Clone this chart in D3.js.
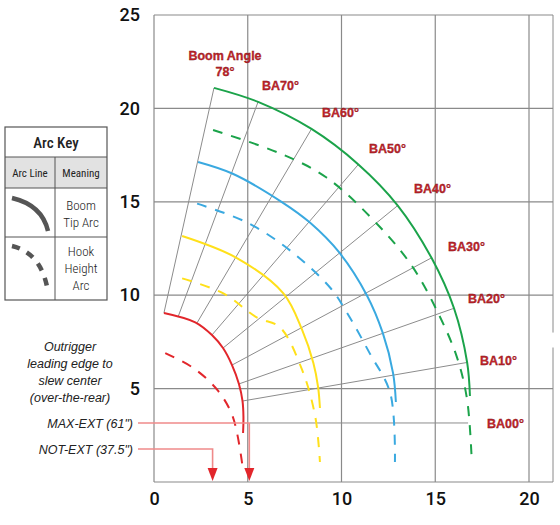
<!DOCTYPE html>
<html><head><meta charset="utf-8">
<script src="https://cdn.jsdelivr.net/npm/d3@7"></script>
<style>body{margin:0;background:#fff}</style></head>
<body><svg id="c" width="560" height="525"></svg>
<script>
const xTicks=[0,5,10,15,20];
const yTicks=[5,10,15,20,25];
const angles=[78,70,60,50,40,30,20,10,0];
const angleLabels=["Boom Angle|78°","BA70°","BA60°","BA50°","BA40°","BA30°","BA20°","BA10°","BA00°"];
// radial line start (inner) and end (outer) points per angle [x,y] in feet
const radialStart=[[0.53,9.05],[1.28,8.83],[2.29,8.51],[3.09,7.87],[3.68,7.17],[4.16,6.26],[4.53,5.25],[4.75,4.34],[5.12,3.16]];
const radialEnd=[[3.2,21.1],[5.55,20.35],[8.4,18.9],[10.9,17.0],[13.0,14.8],[14.8,12.0],[16.0,9.3],[16.7,6.4],[16.75,3.16]];
// boom tip arcs (solid)
const redTip=[[0.53,9.05],[2.2,8.55],[3.09,7.87],[3.68,7.17],[4.16,6.26],[4.53,5.25],[4.72,4.34],[4.77,3.5],[4.75,2.62]];
const yellowTip=[[1.5,13.17],[4.4,12.0],[6.9,10.1],[7.9,8.14],[8.5,6.37],[8.75,5.09],[8.85,3.96]];
const blueTip=[[2.35,17.13],[4.2,16.5],[6.8,15.0],[8.3,13.9],[9.9,12.26],[11.35,10.0],[12.2,7.98],[12.75,5.83],[12.9,4.28]];
const greenTip=[[3.2,21.1],[5.55,20.35],[8.4,18.9],[10.9,17.0],[13.0,14.8],[14.8,12.0],[16.0,9.3],[16.7,6.4],[16.85,4.6]];
// hook height arcs (dashed)
const redHook=[[0.6,6.9],[2.1,6.1],[3.4,4.9],[4.2,3.5],[4.7,1.0]];
const yellowHook=[[1.5,10.9],[3.7,10.1],[5.5,8.8],[6.7,8.3],[7.9,6.0],[8.6,3.5],[8.85,1.07]];
const blueHook=[[2.3,14.9],[4.95,13.9],[7.25,12.4],[9.4,10.4],[10.3,9.05],[11.5,6.9],[12.6,4.76],[12.85,1.07]];
const greenHook=[[3.15,18.84],[6.7,17.6],[9.2,16.3],[12.05,13.65],[13.8,11.5],[15.15,9.05],[16.15,6.7],[16.7,4.4],[16.95,1.07]];
const outriggerNames=["MAX-EXT (61\")","NOT-EXT (37.5\")"];
const outriggerX=[61/12,37.5/12];

const svg=d3.select("#c");
const x=d3.scaleLinear().domain([0,20]).range([154,529]);
const y=d3.scaleLinear().domain([0,25]).range([482,15]);
const grid="#8a8a8a";
const g=svg.append("g");
xTicks.forEach(t=>g.append("line").attr("x1",x(t)).attr("x2",x(t)).attr("y1",y(0)).attr("y2",y(25)).attr("stroke",grid).attr("stroke-width",1.2));
[0,...yTicks].forEach(t=>g.append("line").attr("x1",x(0)).attr("x2",x(20)+24).attr("y1",y(t)).attr("y2",y(t)).attr("stroke",grid).attr("stroke-width",1.2));
g.append("line").attr("x1",x(20)+24).attr("x2",x(20)+24).attr("y1",y(25)).attr("y2",y(8)).attr("stroke",grid);
g.append("line").attr("x1",x(20)+24).attr("x2",x(20)+24).attr("y1",y(7.2)).attr("y2",y(0)).attr("stroke",grid);
const ax=svg.append("g").attr("transform",`translate(0,${y(0)})`).call(d3.axisBottom(x).tickValues(xTicks).tickSize(0).tickPadding(10));
const ay=svg.append("g").attr("transform",`translate(${x(0)},0)`).call(d3.axisLeft(y).tickValues(yTicks).tickSize(0).tickPadding(14));
[ax,ay].forEach(a=>{a.select(".domain").remove();a.selectAll("text").attr("font-family","Roboto").attr("font-size",18).attr("font-weight",500).attr("fill","#111");});

angles.forEach((a,i)=>g.append("line").attr("x1",x(radialStart[i][0])).attr("y1",y(radialStart[i][1])).attr("x2",x(radialEnd[i][0])).attr("y2",y(radialEnd[i][1])).attr("stroke","#8c8c8c").attr("stroke-width",1));

const line=d3.line().x(d=>x(d[0])).y(d=>y(d[1])).curve(d3.curveCatmullRom);
const arcs=[[redTip,"#e2262b",0],[yellowTip,"#ffe01a",0],[blueTip,"#3aa9e0",0],[greenTip,"#1ba34a",0],
 [redHook,"#e2262b",1],[yellowHook,"#ffe01a",1],[blueHook,"#3aa9e0",1],[greenHook,"#1ba34a",1]];
arcs.forEach(([d,c,dash])=>g.append("path").attr("d",line(d)).attr("fill","none").attr("stroke",c).attr("stroke-width",2).attr("stroke-dasharray",dash?"10,9":null));

const oy=[423,449];
const oc="#ef8a8a";
outriggerX.forEach((v,i)=>{
  svg.append("path").attr("d",`M138,${oy[i]}H${x(v)}V470`).attr("fill","none").attr("stroke",oc).attr("stroke-width",1.6);
  svg.append("path").attr("d",`M${x(v)-5},468L${x(v)+5},468L${x(v)},481Z`).attr("fill","#e2262b");
  svg.append("text").attr("x",133).attr("y",oy[i]+5).attr("text-anchor","end").attr("font-family","Liberation Sans").attr("font-style","italic").attr("font-size",12.5).attr("fill","#222").text(outriggerNames[i]);
});
["Outrigger","leading edge to","slew center","(over-the-rear)"].forEach((t,i)=>svg.append("text").attr("x",70).attr("y",351+i*17).attr("text-anchor","middle").attr("font-family","Liberation Sans").attr("font-style","italic").attr("font-size",12.5).attr("fill","#222").text(t));

const lp=[[225,60],[262,90],[322,117],[369,153],[414,193],[448,251],[468,303],[480,365],[487,428]];
angleLabels.forEach((t,i)=>{
  const parts=t.split("|");
  parts.forEach((p,j)=>svg.append("text").attr("x",lp[i][0]).attr("y",lp[i][1]+(j?16:0)).attr("text-anchor",parts.length>1?"middle":"start")
   .attr("font-family","Liberation Sans").attr("font-weight","bold").attr("font-size",12.5).attr("fill","#c4252b").attr("stroke","#7a1014").attr("stroke-width",0.3).text(p));
});

const k=svg.append("g");
k.append("rect").attr("x",5).attr("y",157).attr("width",102).attr("height",31).attr("fill","#e2e2e2");
k.append("rect").attr("x",5).attr("y",127).attr("width",102).attr("height",173).attr("fill","none").attr("stroke","#555").attr("stroke-width",1.2);
[157,188,237].forEach(v=>k.append("line").attr("x1",5).attr("x2",107).attr("y1",v).attr("y2",v).attr("stroke","#555"));
k.append("line").attr("x1",55).attr("x2",55).attr("y1",157).attr("y2",300).attr("stroke","#555");
const kt=(t,xx,yy,s,w)=>k.append("text").attr("x",xx).attr("y",yy).attr("text-anchor","middle").attr("font-family","Roboto").attr("font-stretch","condensed").attr("font-size",s).attr("font-weight",w||400).attr("fill","#222").text(t);
kt("Arc Key",56,148,15,500);kt("Arc Line",30,177,11);kt("Meaning",81,177,11);
kt("Boom",81,210,13,300);kt("Tip Arc",81,227,13,300);
kt("Hook",81,256,13,300);kt("Height",81,273,13,300);kt("Arc",81,290,13,300);
k.append("path").attr("d","M12,198 Q42,205 48,231").attr("fill","none").attr("stroke","#555").attr("stroke-width",4.5);
k.append("path").attr("d","M12,246 Q42,253 48,292").attr("fill","none").attr("stroke","#555").attr("stroke-width",4.5).attr("stroke-dasharray","8,8");
</script></body></html>
